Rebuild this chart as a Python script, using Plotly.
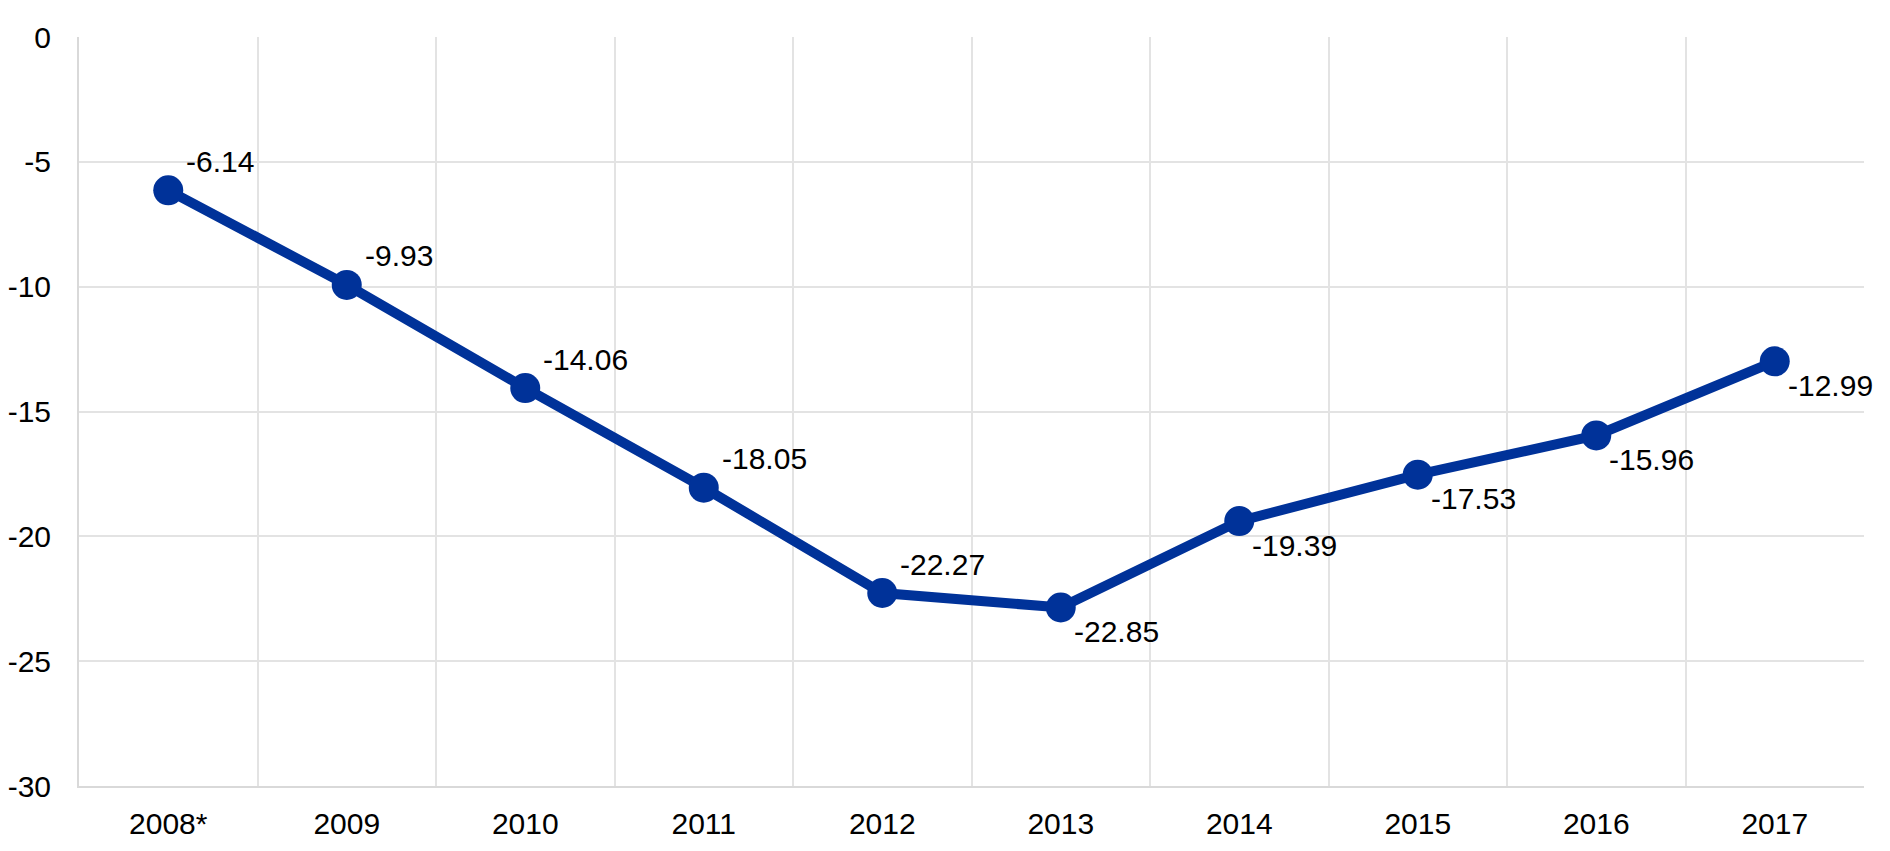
import plotly.graph_objects as go

years = ["2008*", "2009", "2010", "2011", "2012", "2013", "2014", "2015", "2016", "2017"]
values = [-6.14, -9.93, -14.06, -18.05, -22.27, -22.85, -19.39, -17.53, -15.96, -12.99]
label_above = [True, True, True, True, True, False, False, False, False, False]
y_ticks = [0, -5, -10, -15, -20, -25, -30]

BLUE = "#003299"
FONT = "Liberation Sans, Arial, sans-serif"

fig = go.Figure()
fig.add_trace(go.Scatter(
    x=years, y=values, mode="lines+markers",
    line=dict(color=BLUE, width=10),
    marker=dict(color=BLUE, size=30),
    hoverinfo="skip", showlegend=False,
))

for i, (v, above) in enumerate(zip(values, label_above)):
    fig.add_annotation(
        x=i, y=v, xref="x", yref="y", text=f"{v:.2f}", showarrow=False,
        xanchor="left", yanchor="middle",
        xshift=16 if above else 11, yshift=29 if above else -24,
        font=dict(family=FONT, size=30, color="#000000"),
    )

fig.update_layout(
    width=1890, height=851,
    margin=dict(l=71, r=34, t=29, b=73),
    plot_bgcolor="white", paper_bgcolor="white",
    font=dict(family=FONT, size=30, color="#000000"),
)
fig.update_xaxes(
    type="category", categoryorder="array", categoryarray=years,
    range=[-0.5, len(years) - 0.5], automargin=False,
    showgrid=True, gridcolor="#e3e3e3", gridwidth=1.5, tickson="boundaries",
    ticks="", showline=True, linecolor="#d9d9d9", linewidth=2,
    ticklabelstandoff=10, zeroline=False,
)
fig.update_yaxes(
    range=[-30, 0], tickvals=y_ticks, ticktext=[str(t) for t in y_ticks],
    automargin=False,
    showgrid=True, gridcolor="#e3e3e3", gridwidth=1.5,
    ticks="", showline=True, linecolor="#d9d9d9", linewidth=2,
    ticklabelstandoff=20, zeroline=False,
)

fig.write_html("out.html")
